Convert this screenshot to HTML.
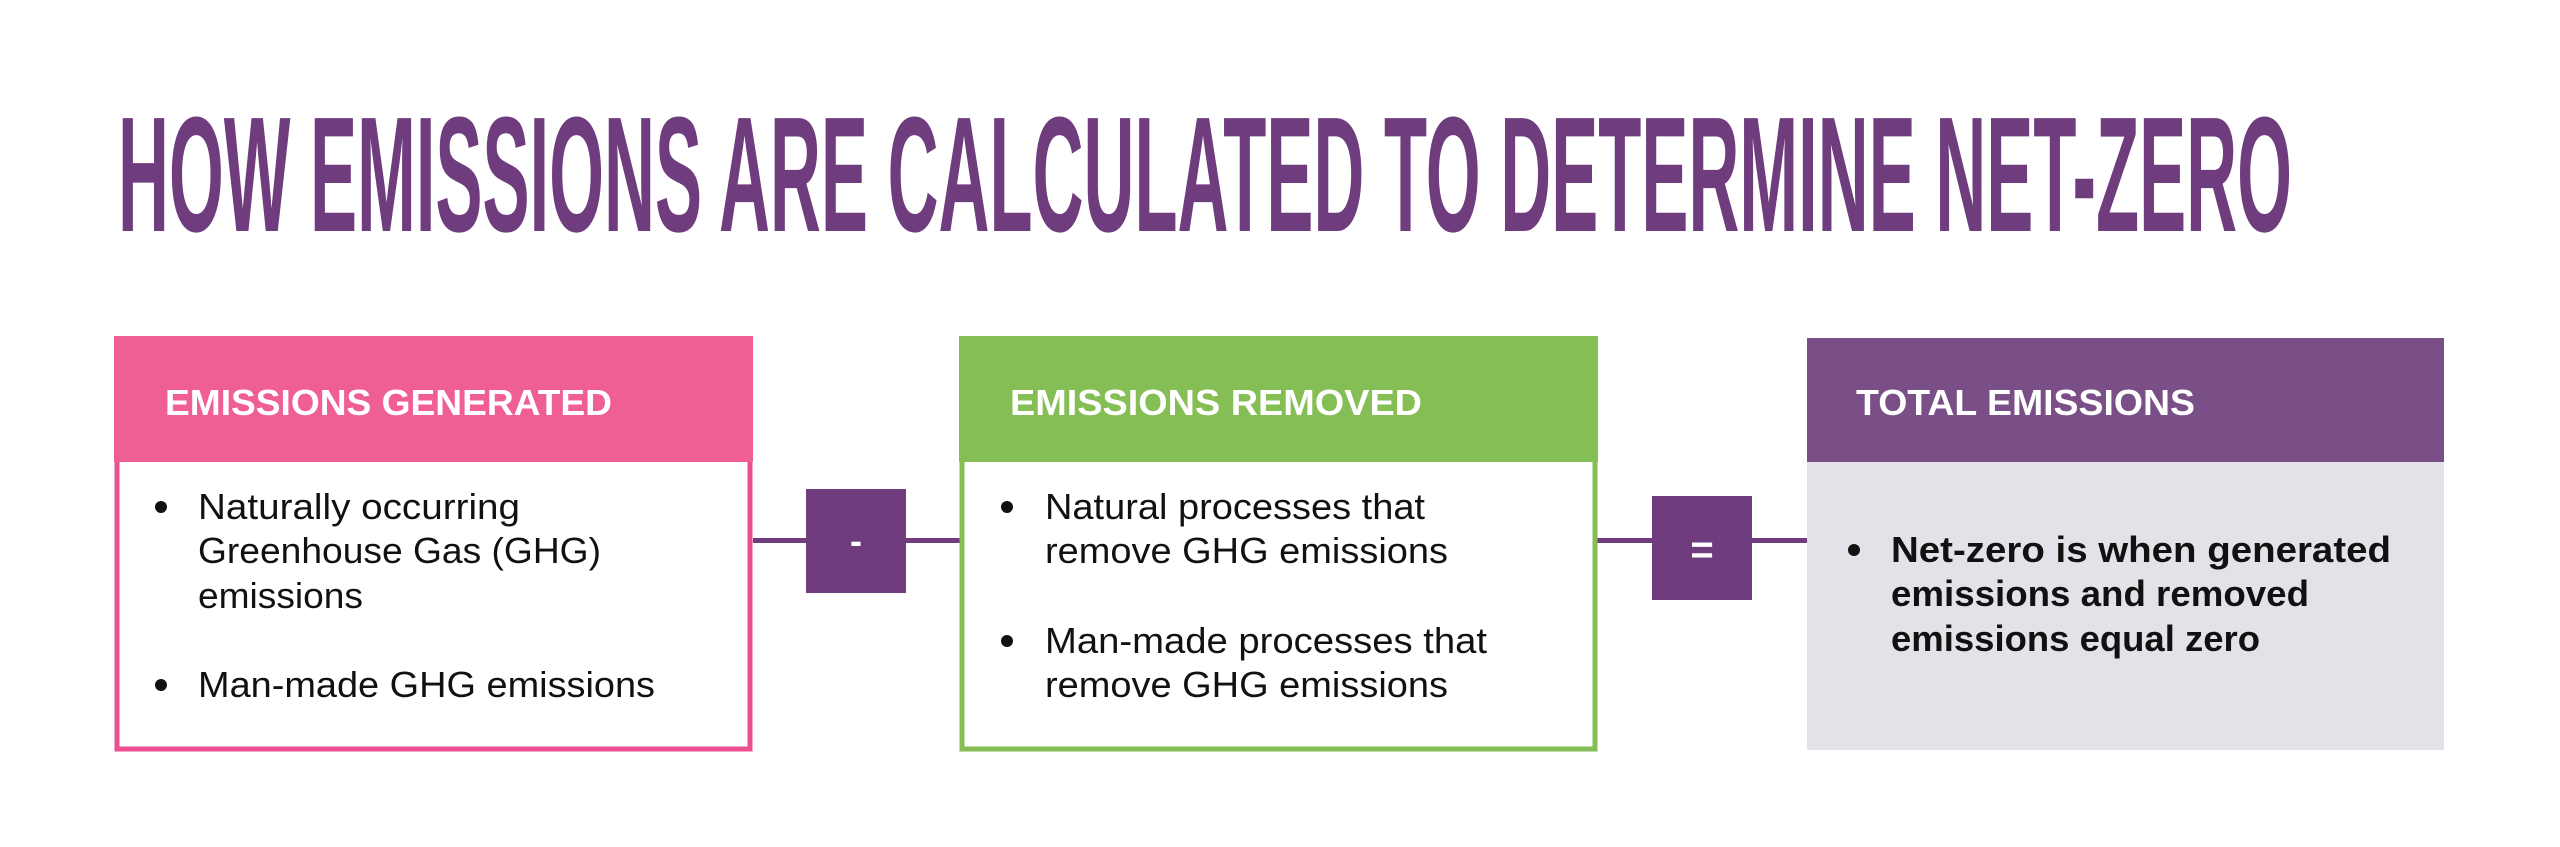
<!DOCTYPE html>
<html><head><meta charset="utf-8"><style>
html,body{margin:0;padding:0;background:#fff;width:2560px;height:847px;overflow:hidden}
svg{display:block}
text{font-family:"Liberation Sans",sans-serif}
</style></head><body>
<svg width="2560" height="847" viewBox="0 0 2560 847" xmlns="http://www.w3.org/2000/svg">
<text x="118" y="231" font-size="164" font-weight="bold" fill="#6F3C7E" textLength="2174" lengthAdjust="spacingAndGlyphs">HOW EMISSIONS ARE CALCULATED TO DETERMINE NET-ZERO</text>

<!-- connectors -->
<rect x="753" y="538" width="1054" height="5" fill="#6F3C7E"/>
<rect x="806" y="489" width="100" height="104" fill="#6F3C7E"/>
<text x="856" y="553" font-size="36" font-weight="bold" fill="#fff" text-anchor="middle">-</text>
<rect x="1652" y="496" width="100" height="104" fill="#6F3C7E"/>
<text x="1702" y="563" font-size="40" font-weight="bold" fill="#fff" text-anchor="middle">=</text>

<!-- box 1 -->
<rect x="117" y="339" width="633" height="410" fill="#fff" stroke="#EC4F8F" stroke-width="5"/>
<rect x="114" y="336" width="639" height="126" fill="#EF5F96"/>
<text x="165" y="415" font-size="36" font-weight="bold" fill="#fff" textLength="447" lengthAdjust="spacingAndGlyphs">EMISSIONS GENERATED</text>
<g font-size="36" fill="#111">
<circle cx="161" cy="507" r="6" fill="#111"/>
<text x="198" y="519" textLength="322" lengthAdjust="spacingAndGlyphs">Naturally occurring</text>
<text x="198" y="563" textLength="403" lengthAdjust="spacingAndGlyphs">Greenhouse Gas (GHG)</text>
<text x="198" y="608" textLength="165" lengthAdjust="spacingAndGlyphs">emissions</text>
<circle cx="161" cy="685" r="6" fill="#111"/>
<text x="198" y="697" textLength="457" lengthAdjust="spacingAndGlyphs">Man-made GHG emissions</text>
</g>

<!-- box 2 -->
<rect x="962" y="339" width="633" height="410" fill="#fff" stroke="#84BE55" stroke-width="5"/>
<rect x="959" y="336" width="639" height="126" fill="#84BE55"/>
<text x="1010" y="415" font-size="36" font-weight="bold" fill="#fff" textLength="412" lengthAdjust="spacingAndGlyphs">EMISSIONS REMOVED</text>
<g font-size="36" fill="#111">
<circle cx="1007" cy="507" r="6" fill="#111"/>
<text x="1045" y="519" textLength="380" lengthAdjust="spacingAndGlyphs">Natural processes that</text>
<text x="1045" y="563" textLength="403" lengthAdjust="spacingAndGlyphs">remove GHG emissions</text>
<circle cx="1007" cy="641" r="6" fill="#111"/>
<text x="1045" y="653" textLength="442" lengthAdjust="spacingAndGlyphs">Man-made processes that</text>
<text x="1045" y="697" textLength="403" lengthAdjust="spacingAndGlyphs">remove GHG emissions</text>
</g>

<!-- box 3 -->
<rect x="1807" y="338" width="637" height="412" fill="#E5E1E8"/>
<rect x="1807" y="338" width="637" height="124" fill="#7A4F87"/>
<text x="1856" y="415" font-size="36" font-weight="bold" fill="#fff" textLength="339" lengthAdjust="spacingAndGlyphs">TOTAL EMISSIONS</text>
<g font-size="36" font-weight="bold" fill="#111">
<circle cx="1854" cy="550" r="6" fill="#111"/>
<text x="1891" y="562" textLength="500" lengthAdjust="spacingAndGlyphs">Net-zero is when generated</text>
<text x="1891" y="606" textLength="418" lengthAdjust="spacingAndGlyphs">emissions and removed</text>
<text x="1891" y="651" textLength="369" lengthAdjust="spacingAndGlyphs">emissions equal zero</text>
</g>
</svg>
</body></html>
